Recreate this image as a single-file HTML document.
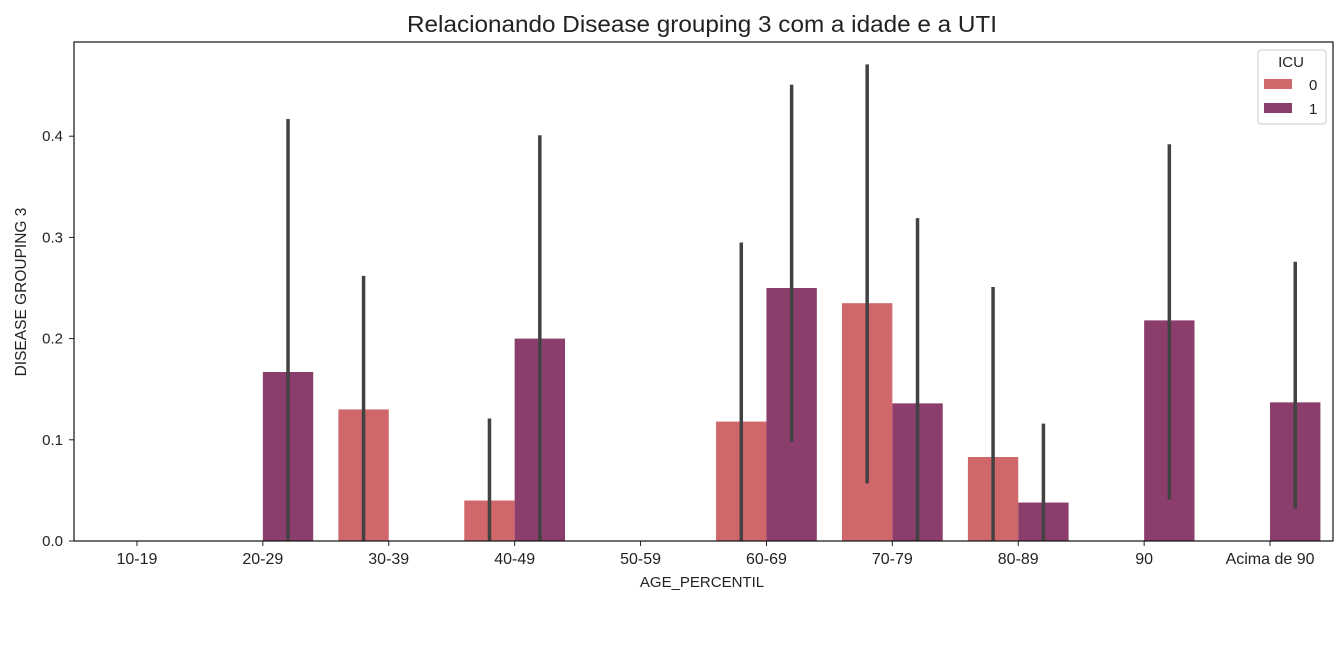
<!DOCTYPE html>
<html><head><meta charset="utf-8"><style>
html,body{margin:0;padding:0;background:#fff;}
svg{display:block;font-family:"Liberation Sans","DejaVu Sans",sans-serif;}
</style></head><body>
<svg id="chart" width="1344" height="646" xmlns="http://www.w3.org/2000/svg">
<text x="702" y="32" text-anchor="middle" font-size="23" fill="#222" textLength="590" lengthAdjust="spacingAndGlyphs">Relacionando Disease grouping 3 com a idade e a UTI</text>
<g id="grid"></g>
<g id="bars"></g>
<g id="errs"></g>
<rect x="74" y="42" width="1259" height="499" fill="none" stroke="#111" stroke-width="1.2"/>
<text x="702" y="587" text-anchor="middle" font-size="15" fill="#222">AGE_PERCENTIL</text>
<text transform="translate(26,292) rotate(-90)" text-anchor="middle" font-size="15.5" fill="#222">DISEASE GROUPING 3</text>
<g>
<rect x="1258" y="50" width="68" height="74" fill="#fff" stroke="#ccc" rx="3"/>
<text x="1291" y="67" text-anchor="middle" font-size="15" fill="#222">ICU</text>
<rect x="1264" y="79" width="28" height="10" fill="#d0676a"/>
<text x="1309" y="90" font-size="15" fill="#222">0</text>
<rect x="1264" y="103" width="28" height="10" fill="#8b3d6b"/>
<text x="1309" y="114" font-size="15" fill="#222">1</text>
</g>
</svg>
<script>
const categories=["10-19","20-29","30-39","40-49","50-59","60-69","70-79","80-89","90","Acima de 90"];
const icu0=[null,null,0.13,0.04,null,0.118,0.235,0.083,null,null];
const icu0Lo=[null,null,0,0,null,0,0.057,0,null,null];
const icu0Hi=[null,null,0.262,0.121,null,0.295,0.471,0.251,null,null];
const icu1=[null,0.167,null,0.2,null,0.25,0.136,0.038,0.218,0.137];
const icu1Lo=[null,0,null,0,null,0.098,0,0,0.041,0.032];
const icu1Hi=[null,0.417,null,0.401,null,0.451,0.319,0.116,0.392,0.276];
const yTicks=[0,0.1,0.2,0.3,0.4];
const NS="http://www.w3.org/2000/svg";
const L=74,R=1333,T=42,B=541;
const band=(R-L)/categories.length;
const xC=i=>L+band*(i+0.5);
const y=v=>B-v*1012;
const bw=band*0.4;
function mk(tag,attrs,parent){const e=document.createElementNS(NS,tag);for(const k in attrs)e.setAttribute(k,attrs[k]);parent.appendChild(e);return e;}
const grid=document.getElementById('grid');
yTicks.forEach(t=>{
 const ln=mk('line',{x1:L-5,x2:L,y1:y(t),y2:y(t),stroke:'#222'},grid);
 
 
 const tx=mk('text',{x:L-11,y:y(t)+5,'text-anchor':'end','font-size':15,fill:'#222'},grid);
 tx.textContent=t.toFixed(1);
 
 
});
categories.forEach((c,i)=>{
 const ln=mk('line',{x1:xC(i),x2:xC(i),y1:B,y2:B+5,stroke:'#222'},grid);
 
 
 const tx=mk('text',{x:xC(i),y:B+23,'text-anchor':'middle','font-size':16,fill:'#222'},grid);
 tx.textContent=c;
 
 
});
const bars=document.getElementById('bars'),errs=document.getElementById('errs');
[[icu0,icu0Lo,icu0Hi,'#d0676a',-1],[icu1,icu1Lo,icu1Hi,'#8b3d6b',0]].forEach(([vals,lo,hi,col,off],s)=>{
 vals.forEach((v,i)=>{
  if(v===null)return;
  const x0=xC(i)+off*bw;
  const r=mk('rect',{x:x0,y:y(v),width:bw,height:B-y(v),fill:col},bars);
  
  
  const e=mk('line',{x1:x0+bw/2,x2:x0+bw/2,y1:y(lo[i]),y2:y(hi[i]),stroke:'#424242','stroke-width':3.5},errs);
  
  
 });
});
</script>
</body></html>
